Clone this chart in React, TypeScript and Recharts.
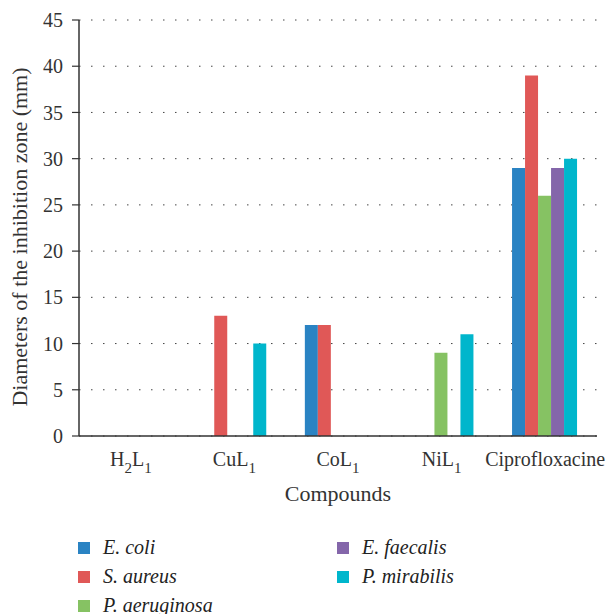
import React from "react";
import {
  BarChart,
  Bar,
  XAxis,
  YAxis,
  CartesianGrid,
} from "recharts";

// inhibition zone diameters (mm) per compound
const compounds = ["H2L1", "CuL1", "CoL1", "NiL1", "Ciprofloxacine"];
const eColi = [0, 0, 12, 0, 29];
const sAureus = [0, 13, 12, 0, 39];
const pAeruginosa = [0, 0, 0, 9, 26];
const eFaecalis = [0, 0, 0, 0, 29];
const pMirabilis = [0, 10, 0, 11, 30];
const yTicks = [0, 5, 10, 15, 20, 25, 30, 35, 40, 45];

const series = [
  { key: "eColi", name: "E. coli", values: eColi, color: "#2a83c3" },
  { key: "sAureus", name: "S. aureus", values: sAureus, color: "#e05857" },
  { key: "pAeruginosa", name: "P. aeruginosa", values: pAeruginosa, color: "#86c263" },
  { key: "eFaecalis", name: "E. faecalis", values: eFaecalis, color: "#8466aa" },
  { key: "pMirabilis", name: "P. mirabilis", values: pMirabilis, color: "#00b6cc" },
];

const data = compounds.map((name, i) => {
  const row: any = { name };
  series.forEach((s) => (row[s.key] = s.values[i]));
  return row;
});

const FONT = '"Liberation Serif", "Times New Roman", Tinos, "DejaVu Serif", serif';
const AXIS = "#333";

// digits in a compound name are drawn as subscripts
function CompoundTick(props: any) {
  const { x, y, payload } = props;
  const parts = String(payload.value).match(/\d+|\D+/g) || [];
  return (
    <text
      x={x}
      y={y + 30}
      textAnchor="middle"
      style={{ fontFamily: FONT }}
      fontSize={20}
      fill={AXIS}
    >
      {parts.map((p, i) =>
        /\d/.test(p) ? (
          <tspan key={i} fontSize={15} dy={7}>
            {p}
          </tspan>
        ) : (
          <tspan key={i} dy={i > 0 ? -7 : 0}>
            {p}
          </tspan>
        )
      )}
    </text>
  );
}

function XLabel(props: any) {
  const vb = props.viewBox || { x: 79, y: 436, width: 518 };
  return (
    <text
      x={vb.x + vb.width / 2}
      y={vb.y + 65}
      textAnchor="middle"
      style={{ fontFamily: FONT }}
      fontSize={22}
      fill={AXIS}
    >
      Compounds
    </text>
  );
}

function YLabel() {
  const cx = 27;
  const cy = 237;
  return (
    <text
      x={cx}
      y={cy}
      transform={`rotate(-90, ${cx}, ${cy})`}
      textAnchor="middle"
      style={{ fontFamily: FONT }}
      fontSize={22}
      fill={AXIS}
    >
      Diameters of the inhibition zone (mm)
    </text>
  );
}

export default function App() {
  return (
    <div
      style={{
        position: "absolute",
        left: 0,
        top: 0,
        width: 610,
        height: 614,
        background: "#fff",
        fontFamily: FONT,
      }}
    >
      <BarChart
        width={610}
        height={520}
        data={data}
        margin={{ top: 20, right: 13, left: 29, bottom: 14 }}
        barCategoryGap="18%"
        barGap={0}
        style={{ fontFamily: FONT }}
      >
        <CartesianGrid
          vertical={false}
          stroke="#444"
          strokeDasharray="1.5 10.5"
        />
        <XAxis
          dataKey="name"
          height={70}
          tickLine={false}
          tickSize={0}
          tickMargin={0}
          axisLine={{ stroke: AXIS, strokeWidth: 1.5 }}
          tick={<CompoundTick />}
          label={<XLabel />}
        />
        <XAxis
          xAxisId="top"
          orientation="top"
          dataKey="name"
          height={0}
          tick={false}
          tickLine={false}
          axisLine={{ stroke: AXIS, strokeWidth: 1.5 }}
        />
        <YAxis
          width={50}
          domain={[0, 45]}
          ticks={yTicks}
          interval={0}
          tickSize={7}
          tickMargin={9}
          axisLine={{ stroke: AXIS, strokeWidth: 1.5 }}
          tickLine={{ stroke: AXIS, strokeWidth: 1.2 }}
          tick={{ fill: AXIS, fontSize: 20, style: { fontFamily: FONT } }}
          label={<YLabel />}
        />
        <YAxis
          yAxisId="right"
          orientation="right"
          width={0}
          domain={[0, 45]}
          tick={false}
          tickLine={false}
          axisLine={{ stroke: "#666", strokeWidth: 1.5 }}
        />
        {series.map((s) => (
          <Bar
            key={s.key}
            dataKey={s.key}
            name={s.name}
            fill={s.color}
            isAnimationActive={false}
          />
        ))}
      </BarChart>
      <div
        style={{
          position: "absolute",
          left: 78,
          top: 533,
          display: "grid",
          gridTemplateColumns: "259px 259px",
          gridTemplateRows: "repeat(3, 29px)",
          gridAutoFlow: "column",
          fontStyle: "italic",
          fontSize: 20,
          color: "#222",
        }}
      >
        {series.map((s) => (
          <div
            key={s.key}
            style={{ display: "flex", alignItems: "center", height: 29 }}
          >
            <span
              style={{
                display: "inline-block",
                width: 12,
                height: 12,
                background: s.color,
                marginRight: 13,
              }}
            />
            <span>{s.name}</span>
          </div>
        ))}
      </div>
    </div>
  );
}
